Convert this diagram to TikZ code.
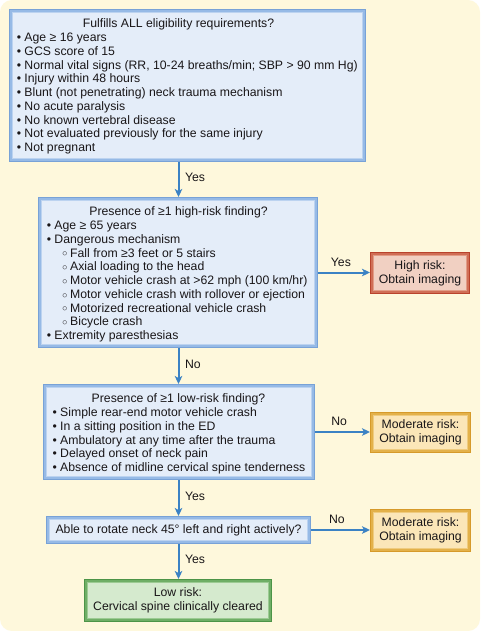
\documentclass[tikz,border=0pt]{standalone}
\usepackage{fontspec}
\setmainfont{Liberation Sans}
\usetikzlibrary{arrows.meta}
\definecolor{cream}{RGB}{254,248,220}
\definecolor{txt}{RGB}{25,22,24}
\definecolor{arrblue}{RGB}{59,130,196}
\definecolor{bA}{RGB}{120,162,215}\definecolor{bB}{RGB}{150,186,230}\definecolor{bC}{RGB}{188,211,240}\definecolor{bD}{RGB}{228,237,249}
\definecolor{rA}{RGB}{185,67,44}\definecolor{rB}{RGB}{208,110,86}\definecolor{rC}{RGB}{226,156,134}\definecolor{rD}{RGB}{241,208,194}
\definecolor{oA}{RGB}{214,154,42}\definecolor{oB}{RGB}{227,177,74}\definecolor{oC}{RGB}{239,203,127}\definecolor{oD}{RGB}{251,230,184}
\definecolor{gA}{RGB}{76,148,71}\definecolor{gB}{RGB}{111,174,102}\definecolor{gC}{RGB}{156,203,147}\definecolor{gD}{RGB}{213,234,206}
\newcommand{\mysubitem}[1]{\hspace*{15.3pt}\makebox[8.1pt][l]{\raisebox{0.3pt}{\fontsize{9}{9}\selectfont ○}}#1}
\tikzset{
  glow/.style n args={4}{fill=#1, inner sep=0pt, outer sep=0pt, align=center,
    path picture={
      \fill[#2] ([shift={(1.3pt,1.3pt)}]path picture bounding box.south west) rectangle ([shift={(-1.3pt,-1.3pt)}]path picture bounding box.north east);
      \fill[#3] ([shift={(2.7pt,2.7pt)}]path picture bounding box.south west) rectangle ([shift={(-2.7pt,-2.7pt)}]path picture bounding box.north east);
      \fill[#4] ([shift={(4.1pt,4.1pt)}]path picture bounding box.south west) rectangle ([shift={(-4.1pt,-4.1pt)}]path picture bounding box.north east);
    }},
  bluebox/.style={glow={bA}{bB}{bC}{bD}},
  redbox/.style={glow={rA}{rB}{rC}{rD}},
  orangebox/.style={glow={oA}{oB}{oC}{oD}},
  greenbox/.style={glow={gA}{gB}{gC}{gD}},
  listtext/.style={anchor=north west, align=left, inner sep=0pt},
  titletext/.style={anchor=base, inner sep=0pt},
  arr/.style={draw=arrblue, line width=2pt, -{Stealth[length=8pt,width=7.5pt,inset=2pt]}},
  dlbl/.style={pos=0.45, anchor=west, xshift=5.5pt, inner sep=0pt},
  hlbl/.style={pos=0.44, anchor=south, yshift=5pt, inner sep=0pt},
}
\begin{document}
\begin{tikzpicture}[x=1pt,y=1pt, every node/.style={text=txt}, font=\fontsize{12.25}{13.75}\selectfont]
\useasboundingbox (0,0) rectangle (480,-631);
\fill[white] (0,0) rectangle (480,-631);
\fill[cream, rounded corners=12pt] (0,0) rectangle (480,-631);

% boxes
\node[bluebox, minimum width=357pt, minimum height=153pt] (b1) at (187.5,-85.5) {};
\node[bluebox, minimum width=280pt, minimum height=151pt] (b2) at (178,-272.5) {};
\node[bluebox, minimum width=272pt, minimum height=96pt] (b3) at (179,-432) {};
\node[bluebox, minimum width=265pt, minimum height=28pt] (b4) at (178.5,-530) {Able to rotate neck 45° left and right actively?};
\node[greenbox, minimum width=188pt, minimum height=43pt] (b5) at (178,-600.5) {Low risk:\\Cervical spine clinically cleared};
\node[redbox, minimum width=100pt, minimum height=42pt] (hr) at (420,-273) {High risk:\\Obtain imaging};
\node[orangebox, minimum width=101pt, minimum height=41pt] (m1) at (420.5,-432.5) {Moderate risk:\\Obtain imaging};
\node[orangebox, minimum width=101pt, minimum height=43pt] (m2) at (420.5,-530.5) {Moderate risk:\\Obtain imaging};

% box texts
\node[titletext] (b1t) at (178.5,-28) {Fulfills ALL eligibility requirements?};
\node[listtext] (b1l) at (16.6,-31.9) {\strut• Age ≥ 16 years\\• GCS score of 15\\• Normal vital signs (RR, 10-24 breaths/min; SBP > 90 mm Hg)\\• Injury within 48 hours\\• Blunt (not penetrating) neck trauma mechanism\\• No acute paralysis\\• No known vertebral disease\\• Not evaluated previously for the same injury\\• Not pregnant};

\node[titletext] (b2t) at (178.5,-215.4) {Presence of ≥1 high-risk finding?};
\node[listtext] (b2l) at (46.6,-219.8) {\strut• Age ≥ 65 years\\• Dangerous mechanism\\\mysubitem{Fall from ≥3 feet or 5 stairs}\\\mysubitem{Axial loading to the head}\\\mysubitem{Motor vehicle crash at >62 mph (100 km/hr)}\\\mysubitem{Motor vehicle crash with rollover or ejection}\\\mysubitem{Motorized recreational vehicle crash}\\\mysubitem{Bicycle crash}\\• Extremity paresthesias};

\node[titletext] (b3t) at (178.5,-402.4) {Presence of ≥1 low-risk finding?};
\node[listtext] (b3l) at (52.3,-406.8) {\strut• Simple rear-end motor vehicle crash\\• In a sitting position in the ED\\• Ambulatory at any time after the trauma\\• Delayed onset of neck pain\\• Absence of midline cervical spine tenderness};

% connectors
\coordinate (ax) at (178.5,0);
\draw[arr] (b1.south -| ax) -- node[dlbl]{Yes} (b2.north -| ax);
\draw[arr] (b2.south -| ax) -- node[dlbl]{No} (b3.north -| ax);
\draw[arr] (b3.south -| ax) -- node[dlbl]{Yes} (b4.north -| ax);
\draw[arr] (b4.south -| ax) -- node[dlbl]{Yes} (b5.north -| ax);
\draw[arr] (b2.east) -- node[hlbl]{Yes} (b2.east -| hr.west);
\draw[arr] (b3.east) -- node[hlbl]{No} (b3.east -| m1.west);
\draw[arr] (b4.east) -- node[hlbl]{No} (b4.east -| m2.west);
\end{tikzpicture}
\end{document}
